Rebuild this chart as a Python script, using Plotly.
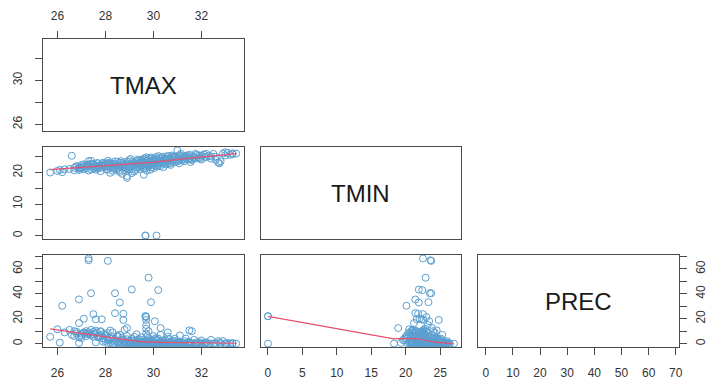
import numpy as np
import plotly.graph_objects as go

# ---------------- data ----------------
TMAX = [27.3, 28.1, 27.3, 29.8, 29.1, 30.2, 27.4, 28.4, 26.9, 28.6, 29.9, 26.2,
        28.4, 27.5, 28.75, 27.1, 27.85, 27.6, 28.75, 29.7, 29.7, 29.7, 29.7, 30.06,
        26.9, 30.3, 28.9, 30.6, 31.5, 31.6, 26.0, 25.7, 26.1, 29.67, 30.13, 28.9, 29.6,
        26.3, 26.6, 26.7, 26.8, 26.9, 27.0, 27.0, 27.1, 27.2, 27.2, 27.3, 27.4, 27.4,
        27.5, 27.5, 27.6, 27.7, 27.7, 27.8, 27.8, 27.9, 28.0, 28.0, 28.1, 28.1, 28.2,
        28.2, 28.3, 28.3, 28.4, 28.5, 28.5, 28.6, 28.6, 28.7, 28.7, 28.8, 28.8, 28.9,
        28.9, 29.0, 29.0, 29.1, 29.1, 29.2, 29.2, 29.3, 29.3, 29.4, 29.4, 29.5, 29.5,
        29.6, 29.6, 29.7, 29.7, 29.7, 29.8, 29.8, 29.8, 29.9, 29.9, 30.0, 30.0, 30.1,
        30.1, 30.2, 30.2, 30.3, 30.3, 30.4, 30.4, 30.5, 30.5, 30.6, 30.6, 30.7, 30.7,
        30.8, 30.8, 30.9, 30.9, 31.0, 31.0, 31.1, 31.1, 31.2, 31.3, 31.3, 31.4, 31.5,
        31.6, 31.7, 31.8, 31.9, 32.0, 32.1, 32.2, 32.3, 32.4, 32.5, 32.6, 32.7, 32.8,
        32.9, 33.0, 33.1, 33.2, 33.3, 33.45,
        27.0, 27.1, 27.2, 27.3, 27.4, 27.5, 27.6, 27.7, 27.8, 27.9, 28.0, 28.1, 28.2,
        28.3, 28.4, 28.5, 28.6, 28.7, 28.8, 28.9, 29.0, 29.1, 29.2, 29.3, 29.4, 29.5,
        29.6, 29.7, 29.75, 29.8, 29.85, 29.9, 30.0, 30.05, 30.1, 30.2, 30.25, 30.3,
        30.4, 30.45, 30.5, 30.6, 30.65, 30.7, 30.8, 30.85, 30.9, 31.0, 31.05, 31.1,
        31.2, 31.25, 31.35, 31.4, 31.5, 31.6, 31.7, 31.8, 31.9, 32.0, 32.2, 32.4,
        32.6, 32.75, 33.0, 33.3, 28.3, 27.9, 29.35, 29.55, 30.35, 30.75, 29.65, 29.95,
        26.5, 26.7, 26.8, 28.7, 29.1, 28.2, 29.67, 26.9, 27.6,
        28.55, 28.65, 28.85, 28.95, 29.05, 29.15, 29.25, 29.35, 29.45, 29.5, 29.62,
        29.72, 29.78, 29.88, 29.92, 30.02, 30.08, 30.15, 30.22, 30.28, 30.38, 30.42,
        30.55, 30.62, 30.72, 30.78, 30.95, 31.08, 31.15, 31.28, 31.45, 31.55, 31.75,
        31.95, 32.15, 28.45, 28.15, 28.05, 27.95, 27.65]
TMIN = [22.5, 23.7, 23.6, 22.9, 21.9, 22.4, 23.7, 23.5, 21.4, 21.9, 23.3, 20.1,
        21.4, 22.5, 21.8, 22.0, 22.3, 21.6, 22.6, 24.8, 23.0, 23.2, 22.8, 23.4,
        21.2, 23.8, 18.9, 24.2, 24.5, 24.0, 20.5, 20.0, 20.8, 0.0, 0.0, 18.3, 19.3,
        21.0, 25.3, 21.5, 22.0, 20.8, 21.7, 22.4, 21.0, 22.2, 21.4, 20.6, 22.8, 21.9,
        21.2, 22.5, 20.9, 22.0, 22.9, 21.5, 20.4, 22.6, 21.8, 22.9, 21.0, 22.3, 23.2,
        21.6, 22.0, 20.5, 22.8, 21.4, 23.4, 22.2, 20.2, 23.0, 21.8, 22.6, 20.8, 23.5,
        21.4, 22.4, 23.9, 21.0, 22.7, 23.2, 20.3, 22.1, 23.6, 21.6, 22.9, 24.0, 22.3,
        21.2, 23.4, 22.6, 24.2, 21.8, 23.0, 24.6, 22.2, 23.6, 21.6, 24.1, 22.8, 23.4,
        24.9, 22.5, 23.9, 24.5, 22.9, 23.5, 25.0, 22.6, 24.2, 23.3, 25.3, 24.0, 22.9,
        24.7, 23.6, 25.1, 23.2, 27.0, 24.4, 25.5, 23.8, 24.8, 23.6, 25.2, 24.3, 25.6,
        24.0, 25.0, 24.5, 25.4, 24.1, 25.7, 24.8, 25.3, 24.4, 25.9, 25.0, 23.2, 23.5,
        26.0, 25.4, 26.2, 25.6, 25.8, 26.0,
        21.3, 22.6, 21.8, 22.1, 21.0, 22.7, 21.9, 21.3, 22.4, 21.7, 22.1, 23.0, 22.5,
        21.2, 22.2, 22.0, 23.1, 22.4, 21.6, 22.9, 21.8, 23.3, 22.6, 21.5, 23.8, 22.9,
        22.0, 23.7, 22.5, 21.9, 23.2, 24.4, 23.5, 22.2, 24.1, 23.0, 24.7, 23.6,
        22.8, 24.3, 23.9, 22.7, 24.6, 23.8, 25.0, 24.1, 24.8, 23.5, 25.3, 24.6,
        23.9, 25.0, 24.7, 25.4, 24.2, 25.2, 24.4, 25.6, 24.7, 25.3, 25.9, 25.1,
        24.0, 22.9, 26.4, 26.1, 22.7, 23.1, 22.7, 23.3, 23.3, 24.4, 21.4, 22.9,
        21.1, 20.7, 21.9, 19.6, 19.8, 19.9, 0.0, 21.6, 22.2,
        20.6, 23.6, 22.0, 20.9, 24.3, 22.2, 20.8, 24.1, 21.1, 23.5, 24.5,
        20.6, 23.9, 20.9, 24.8, 21.4, 23.1, 21.9, 25.2, 22.0, 24.8, 21.7,
        24.9, 23.7, 22.4, 25.4, 24.0, 22.9, 25.9, 24.1, 25.0, 23.3, 25.9,
        24.4, 25.0, 21.0, 22.7, 20.9, 22.2, 23.0]
PREC = [68.5, 66.5, 67.0, 53.0, 43.5, 43.0, 40.5, 40.5, 35.5, 33.0, 33.3, 30.4,
        24.5, 23.7, 24.0, 20.0, 19.5, 19.5, 19.0, 19.0, 21.3, 15.0, 12.0, 18.0,
        16.5, 12.5, 12.5, 9.0, 10.6, 10.0, 11.5, 5.5, 0.8, 22.0, 0.0, 0.0, 0.5,
        9.0, 7.0, 10.0, 8.0, 5.0, 4.5, 8.0, 8.5, 6.0, 10.0, 9.0, 7.0, 7.0,
        7.5, 9.5, 10.5, 6.0, 5.0, 10.0, 6.0, 4.0, 6.5, 2.0, 0.0, 8.5, 4.0,
        0.5, 2.5, 9.0, 0.0, 5.5, 1.0, 0.0, 7.0, 3.0, 0.0, 11.0, 2.0, 0.0,
        6.0, 1.0, 0.0, 4.0, 0.0, 2.5, 0.0, 7.5, 0.5, 0.0, 3.5, 0.0, 5.0,
        1.5, 0.0, 8.0, 2.0, 0.0, 10.0, 0.0, 4.5, 0.0, 1.0, 6.0, 0.0, 2.5,
        0.0, 0.5, 4.0, 0.0, 7.0, 1.0, 0.0, 3.0, 0.0, 5.5, 0.0, 1.5, 0.0,
        2.0, 0.0, 4.0, 0.0, 0.0, 1.0, 0.0, 6.5, 0.0, 2.0, 0.5, 0.0, 1.5,
        0.0, 3.0, 0.0, 0.0, 2.5, 0.0, 1.0, 0.0, 3.0, 0.0, 0.0, 2.0, 0.0,
        2.0, 0.0, 0.5, 0.0, 0.0, 0.0,
        6.5, 9.0, 8.0, 7.5, 11.0, 5.5, 8.0, 6.0, 9.5, 4.5, 7.0, 3.5, 10.5,
        5.0, 3.0, 6.5, 2.0, 4.5, 1.0, 3.5, 0.0, 2.0, 5.5, 0.0, 1.5, 0.0,
        3.0, 0.0, 6.0, 0.5, 2.5, 0.0, 1.5, 0.0, 4.5, 0.0, 1.0, 0.0,
        2.5, 0.0, 1.0, 0.0, 3.5, 0.0, 0.5, 0.0, 2.0, 0.0, 0.0, 1.5,
        0.0, 0.0, 4.0, 0.0, 0.5, 0.0, 0.0, 1.0, 0.0, 0.0, 0.5, 0.0,
        0.0, 1.0, 0.0, 0.5, 0.0, 1.5, 0.0, 1.0, 0.5, 0.0, 2.0, 0.0,
        11.0, 6.0, 9.5, 3.0, 2.5, 4.0, 22.0, 0.5, 1.0,
        0.0, 1.0, 0.0, 2.0, 0.0, 0.5, 0.0, 3.0, 0.0, 1.0, 0.0,
        0.5, 0.0, 2.0, 0.0, 0.0, 3.5, 0.0, 0.0, 1.5, 0.0, 0.0,
        2.0, 0.0, 0.5, 0.0, 0.0, 1.0, 0.0, 0.0, 0.5, 0.0, 0.0,
        1.0, 0.0, 1.5, 2.5, 5.0, 8.0, 9.0]

VARS = ["TMAX", "TMIN", "PREC"]
DATA = {"TMAX": TMAX, "TMIN": TMIN, "PREC": PREC}
TICKS = {"TMAX": [26, 28, 30, 32],
         "TMIN": [0, 5, 10, 15, 20, 25],
         "PREC": [0, 10, 20, 30, 40, 50, 60, 70]}
Y_LABELS = {"TMAX": ["26", "", "30", ""],
            "TMIN": ["0", "", "10", "", "20", ""],
            "PREC": ["0", "", "20", "", "40", "", "60", ""]}


# ---------------- helpers ----------------
def ext(v):
    lo, hi = float(np.min(v)), float(np.max(v))
    r = hi - lo
    return [lo - 0.04 * r, hi + 0.04 * r]


def _lowest(x, y, n, xs, nleft, nright, userw, rw):
    rng = x[-1] - x[0]
    h = max(xs - x[nleft], x[nright] - xs)
    h9, h1 = 0.999 * h, 0.001 * h
    w = np.zeros(n)
    a = 0.0
    j = nleft
    while j < n:
        r = abs(x[j] - xs)
        if r <= h9:
            wj = 1.0 if r <= h1 else (1 - (r / h) ** 3) ** 3
            if userw:
                wj *= rw[j]
            w[j] = wj
            a += wj
        elif x[j] > xs:
            break
        j += 1
    nrt = j - 1
    if a <= 0:
        return 0.0, False
    sl = slice(nleft, nrt + 1)
    w[sl] /= a
    if h > 0:
        a = np.sum(w[sl] * x[sl])
        b = xs - a
        c = np.sum(w[sl] * (x[sl] - a) ** 2)
        if np.sqrt(c) > 0.001 * rng:
            b /= c
            w[sl] *= (b * (x[sl] - a) + 1.0)
    return float(np.sum(w[sl] * y[sl])), True


def lowess(xin, yin, f=2 / 3, nsteps=3):
    """Port of R's clowess (stats::lowess)."""
    xin = np.asarray(xin, float)
    yin = np.asarray(yin, float)
    o = np.argsort(xin, kind="stable")
    x, y = xin[o], yin[o]
    n = len(x)
    delta = 0.01 * (x[-1] - x[0])
    ns = max(2, min(n, int(f * n + 1e-7)))
    ys = np.zeros(n)
    rw = np.ones(n)
    for it in range(1, nsteps + 2):
        nleft, nright = 0, ns - 1
        last = -1
        i = 0
        while True:
            if nright < n - 1:
                d1 = x[i] - x[nleft]
                d2 = x[nright + 1] - x[i]
                if d1 > d2:
                    nleft += 1
                    nright += 1
                    continue
            val, ok = _lowest(x, y, n, x[i], nleft, nright, it > 1, rw)
            ys[i] = val if ok else y[i]
            if last < i - 1:
                denom = x[i] - x[last]
                for j in range(last + 1, i):
                    alpha = (x[j] - x[last]) / denom
                    ys[j] = alpha * ys[i] + (1 - alpha) * ys[last]
            last = i
            cut = x[last] + delta
            i = last + 1
            while i < n:
                if x[i] > cut:
                    break
                if x[i] == x[last]:
                    ys[i] = ys[last]
                    last = i
                i += 1
            i = max(last + 1, i - 1)
            if last >= n - 1:
                break
        res = y - ys
        sc = np.mean(np.abs(res))
        if it > nsteps:
            break
        a = np.sort(np.abs(res))
        m1 = n // 2
        if n % 2 == 0:
            cmad = 3.0 * (a[m1] + a[n - m1 - 1])
        else:
            cmad = 6.0 * a[m1]
        if cmad < 1e-7 * sc:
            break
        c9, c1 = 0.999 * cmad, 0.001 * cmad
        r = np.abs(res)
        rw = np.where(r <= c1, 1.0, np.where(r <= c9, (1 - (r / cmad) ** 2) ** 2, 0.0))
    return x, ys


# ---------------- layout geometry ----------------
W, H = 709, 382
COLS = [(43, 245), (262, 464), (481, 683)]
ROWS = [(39, 131), (147, 239), (255, 347)]
FONT = "Liberation Sans, Arial, sans-serif"
TICKFONT = dict(family=FONT, size=12, color="#333333")
LINE = "#4a4a4a"
PT = "#5b9fd0"
SMOOTH = "#e8506e"

fig = go.Figure()
layout = {}
annotations = []
k = 0
for i in range(3):
    for j in range(i + 1):
        k += 1
        xv, yv = VARS[j], VARS[i]
        xa = "xaxis" if k == 1 else f"xaxis{k}"
        ya = "yaxis" if k == 1 else f"yaxis{k}"
        xr = "x" if k == 1 else f"x{k}"
        yr = "y" if k == 1 else f"y{k}"
        base = dict(showgrid=False, zeroline=False, showline=True, mirror=True,
                    linecolor=LINE, linewidth=1, ticks="", showticklabels=False,
                    tickfont=TICKFONT, fixedrange=True)
        xrng, yrng = ext(DATA[xv]), ext(DATA[yv])
        xax = dict(base, domain=[COLS[j][0] / W, COLS[j][1] / W], range=xrng, anchor=yr)
        yax = dict(base, domain=[1 - ROWS[i][1] / H, 1 - ROWS[i][0] / H],
                   range=yrng, anchor=xr)
        tick_style = dict(ticks="outside", ticklen=7, tickwidth=1, tickcolor=LINE,
                          showticklabels=True)
        if i == 0 and j == 0:
            xax.update(tick_style, side="top", tickvals=TICKS[xv],
                       ticktext=[str(t) for t in TICKS[xv]], ticklabelstandoff=6)
        if i == 2:
            xax.update(tick_style, side="bottom", tickvals=TICKS[xv],
                       ticktext=[str(t) for t in TICKS[xv]], ticklabelstandoff=8)
        if j == 0:
            yax.update(tick_style, side="left", tickvals=TICKS[yv],
                       ticktext=Y_LABELS[yv], tickangle=-90, ticklabelstandoff=8)
        if i == 2 and j == 2:
            yax.update(tick_style, side="right", tickvals=TICKS[yv],
                       ticktext=Y_LABELS[yv], tickangle=-90, ticklabelstandoff=3)
        layout[xa] = xax
        layout[ya] = yax

        if i == j:
            # invisible anchor trace so the empty diagonal panel is drawn
            fig.add_trace(go.Scatter(x=[sum(xrng) / 2], y=[sum(yrng) / 2], mode="markers",
                                     xaxis=xr, yaxis=yr, showlegend=False,
                                     hoverinfo="skip", marker=dict(opacity=0)))
            annotations.append(dict(text=xv, xref=f"{xr} domain", yref=f"{yr} domain",
                                    x=0.5, y=0.5, showarrow=False,
                                    font=dict(family=FONT, size=24, color="#1a1a1a")))
        else:
            fig.add_trace(go.Scatter(x=DATA[xv], y=DATA[yv], mode="markers",
                                     xaxis=xr, yaxis=yr, showlegend=False,
                                     marker=dict(symbol="circle-open", size=7,
                                                 color=PT, line=dict(width=1))))
            sx, sy = lowess(DATA[xv], DATA[yv])
            fig.add_trace(go.Scatter(x=sx, y=sy, mode="lines", xaxis=xr, yaxis=yr,
                                     showlegend=False,
                                     line=dict(color=SMOOTH, width=1.2)))

fig.update_layout(**layout)
fig.update_layout(width=W, height=H, margin=dict(l=0, r=0, t=0, b=0),
                  paper_bgcolor="white", plot_bgcolor="white",
                  annotations=annotations, showlegend=False)
fig.write_html("out.html")
